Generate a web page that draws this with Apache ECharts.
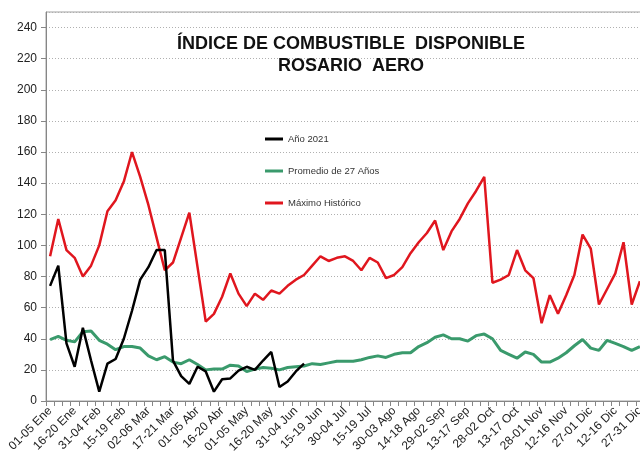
<!DOCTYPE html>
<html>
<head>
<meta charset="utf-8">
<script src="https://cdn.jsdelivr.net/npm/echarts@6/dist/echarts.min.js"></script>
<style>html,body{margin:0;padding:0;background:#fff;}#c{width:640px;height:458px;}</style>
</head>
<body>
<div id="c"></div>
<script>
var categories = ["01-05 Ene","06-10 Ene","11-15 Ene","16-20 Ene","21-25 Ene","26-30 Ene","31-04 Feb","05-09 Feb","10-14 Feb","15-19 Feb","20-24 Feb","25-01 Mar","02-06 Mar","07-11 Mar","12-16 Mar","17-21 Mar","22-26 Mar","27-31 Mar","01-05 Abr","06-10 Abr","11-15 Abr","16-20 Abr","21-25 Abr","26-30 Abr","01-05 May","06-10 May","11-15 May","16-20 May","21-25 May","26-30 May","31-04 Jun","05-09 Jun","10-14 Jun","15-19 Jun","20-24 Jun","25-29 Jun","30-04 Jul","05-09 Jul","10-14 Jul","15-19 Jul","20-24 Jul","25-29 Jul","30-03 Ago","04-08 Ago","09-13 Ago","14-18 Ago","19-23 Ago","24-28 Ago","29-02 Sep","03-07 Sep","08-12 Sep","13-17 Sep","18-22 Sep","23-27 Sep","28-02 Oct","03-07 Oct","08-12 Oct","13-17 Oct","18-22 Oct","23-27 Oct","28-01 Nov","02-06 Nov","07-11 Nov","12-16 Nov","17-21 Nov","22-26 Nov","27-01 Dic","02-06 Dic","07-11 Dic","12-16 Dic","17-21 Dic","22-26 Dic","27-31 Dic"];
var anio2021 = [74, 87, 37, 22, 47, 26, 6, 24, 27, 40, 58, 78, 86, 97, 97, 26, 16, 11, 22, 19, 6, 14, 14.5, 19.5, 22, 20, 26, 31.5, 9, 12.5, 19, 24];
var promedio = [39.5, 41.5, 39, 38, 44.5, 45, 39, 36.5, 33, 35, 35, 34, 29, 26.5, 28.5, 25, 24, 26.5, 23.5, 20, 20.5, 20.5, 23, 22.5, 19, 20.5, 21.5, 21, 20, 21.5, 22, 22.5, 24, 23.5, 24.5, 25.5, 25.5, 25.5, 26.5, 28, 29, 28, 30, 31, 31, 35, 37.5, 41, 42.5, 40, 40, 38.5, 42, 43, 40, 32.5, 30, 27.5, 31.5, 30, 25, 25, 27.5, 31, 35.5, 39.5, 34, 32.5, 39, 37, 35, 32.5, 35];
var maximo = [93, 117, 97, 92, 80, 87, 100, 122, 129, 141, 160, 144, 126, 105, 84, 89, 105, 121, 86, 51, 56, 67, 82, 69, 61, 69, 65, 71, 69, 74, 78, 81, 87, 93, 90, 92, 93, 90, 84, 92, 89, 79, 81, 86, 95, 102, 108, 116, 97, 109, 117, 127, 135, 144, 76, 78, 81, 97, 84, 79, 50, 68, 56, 68, 81, 107, 98, 62, 72, 82, 102, 62, 77];
var seriesNames = ["Año 2021", "Promedio de 27 Años", "Máximo Histórico"];
var titleLines = ["ÍNDICE DE COMBUSTIBLE  DISPONIBLE", "ROSARIO  AERO"];

var chart = echarts.init(document.getElementById('c'), null, {renderer: 'canvas'});
var font = "'Liberation Sans', Arial, sans-serif";
chart.setOption({
  animation: false,
  backgroundColor: '#ffffff',
  title: {
    text: titleLines.join('\n'),
    left: 346,
    top: 28,
    textAlign: 'center',
    textStyle: {fontFamily: font, fontSize: 18, fontWeight: 'bold', color: '#111', lineHeight: 22}
  },
  legend: {
    orient: 'vertical',
    left: 260,
    top: 129,
    itemGap: 22,
    itemWidth: 18,
    itemHeight: 3,
    icon: 'rect',
    textStyle: {fontFamily: font, fontSize: 9.5, color: '#333'},
    data: seriesNames
  },
  grid: {left: 46, top: 12, width: 598, bottom: 57, show: true, borderColor: '#a0a0a0', borderWidth: 1,
    outerBoundsMode: 'none', containLabel: false},
  xAxis: {
    type: 'category',
    data: categories,
    boundaryGap: true,
    axisLine: {lineStyle: {color: '#868686', width: 1}},
    axisTick: {show: true, interval: 0, length: 5, lineStyle: {color: '#868686'}},
    axisLabel: {interval: 2, rotate: 45, fontFamily: font, fontSize: 12, color: '#222', margin: 8},
    splitLine: {show: false}
  },
  yAxis: {
    type: 'value',
    min: 0,
    max: 250,
    interval: 20,
    axisLine: {show: true, lineStyle: {color: '#868686', width: 1}},
    axisTick: {show: true, length: 5, lineStyle: {color: '#868686'}},
    axisLabel: {fontFamily: font, fontSize: 12, color: '#222', margin: 9, showMaxLabel: false,
      formatter: function (v) { return v % 20 === 0 ? String(v) : ''; }},
    splitLine: {show: true, lineStyle: {color: '#b0b0b0', type: [1, 2], width: 1}}
  },
  series: [
    {name: seriesNames[0], type: 'line', data: anio2021, showSymbol: false, symbol: 'none',
      lineStyle: {color: '#000000', width: 2.5}, itemStyle: {color: '#000000'}, z: 4},
    {name: seriesNames[1], type: 'line', data: promedio, showSymbol: false, symbol: 'none',
      lineStyle: {color: '#3a9a6c', width: 3}, itemStyle: {color: '#3a9a6c'}, z: 3},
    {name: seriesNames[2], type: 'line', data: maximo, showSymbol: false, symbol: 'none',
      lineStyle: {color: '#e0161e', width: 2.5}, itemStyle: {color: '#e0161e'}, z: 2}
  ]
});
</script>
</body>
</html>
